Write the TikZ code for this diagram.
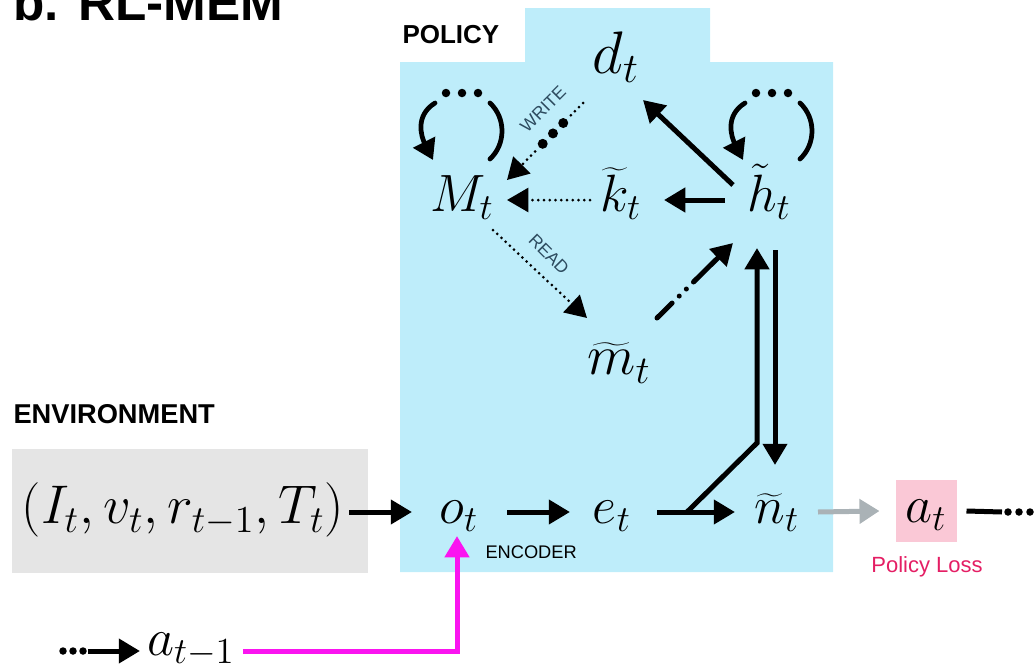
\RequirePackage{fix-cm}
\documentclass[tikz,border=0pt]{standalone}
\usepackage{fontspec}
\newfontfamily\hv{Liberation Sans}
\usetikzlibrary{arrows.meta,calc}
\definecolor{polblue}{RGB}{190,237,250}
\definecolor{envgrey}{RGB}{229,229,229}
\definecolor{actpink}{RGB}{250,200,214}
\definecolor{losscol}{RGB}{228,30,100}
\definecolor{mag}{RGB}{250,20,240}
\definecolor{lblcol}{RGB}{45,75,95}
\definecolor{garrow}{RGB}{170,178,182}
\tikzset{
  mn/.style={inner sep=0pt,outer sep=0pt,font=\fontsize{21}{25}\selectfont,text height=14.5pt,text depth=5pt},
  arr/.style={line width=2pt,-{Triangle[length=8.5pt,width=9.5pt]}},
  dotl/.style={line width=1.2pt,line cap=round,dash pattern=on 0pt off 2.3pt},
  dotarr/.style={dotl,-{Triangle[length=8.5pt,width=9.5pt]}},
  dasharr/.style={line width=2pt,line cap=round,dash pattern=on 8.5pt off 4pt on 0pt off 4pt on 0pt off 4pt on 40pt off 40pt,-{Triangle[length=8.5pt,width=9.5pt]}},
  biglbl/.style={font=\hv\bfseries\fontsize{10.4}{12}\selectfont,inner sep=0pt},
  smalllbl/.style={font=\hv\fontsize{7.3}{8}\selectfont,inner sep=0pt},
  rwlbl/.style={font=\hv\fontsize{7}{8}\selectfont,inner sep=0pt,text=lblcol},
  loopl/.style={line width=1.9pt,line cap=round},
  selfloop/.pic={
    \draw[loopl,-{Triangle[length=8pt,width=9.5pt]}] (-27,-97) .. controls (-48,-84) and (-40,-62) .. (-29,-40);
    \draw[loopl] (28,-97) .. controls (44,-82) and (44,-56) .. (28,-41);
    \fill (-16,-107) circle (1.7pt) (0,-107) circle (1.7pt) (16,-107) circle (1.7pt);
  }
}
\begin{document}
\begin{tikzpicture}[x=0.4pt,y=-0.4pt]
\useasboundingbox (0,0) rectangle (1035,667);
\clip (0,0) rectangle (1035,667);
% title
\node[anchor=base west,inner sep=0pt,font=\hv\bfseries\fontsize{20.5}{24}\selectfont] (title) at (13,20) {b. RL-MEM};
% policy region
\fill[polblue] (400,62) -- (525,62) -- (525,8) -- (710,8) -- (710,62) -- (833,62) -- (833,572) -- (400,572) -- cycle;
\node[biglbl,anchor=base west] (pol) at (402,43) {POLICY};
\node[biglbl,anchor=base west,font=\hv\bfseries\fontsize{10.9}{12}\selectfont] (envl) at (13,423) {ENVIRONMENT};
% environment box
\node[fill=envgrey,minimum width=142.4pt,minimum height=49.6pt,inner sep=0pt] (envbox) at (190,511) {};
\node[mn,font=\fontsize{21.8}{26}\selectfont] (env) at (183,512) {$(I_t, v_t, r_{t-1}, T_t)$};
% math nodes
\node[mn,font=\fontsize{24}{28}\selectfont,text height=16.5pt,text depth=6pt] (d) at (616,60) {$d_t$};
\node[mn] (M) at (462,200) {$M_t$};
\node[mn] (k) at (621,200) {$\widetilde{k}_t$};
\node[mn] (h) at (769,200) {$\tilde{h}_t$};
\node[mn,font=\fontsize{22.5}{26}\selectfont] (m) at (619,363) {$\widetilde{m}_t$};
\node[mn] (o) at (459,512) {$o_t$};
\node[mn] (e) at (612,512) {$e_t$};
\node[mn] (n) at (777,512) {$\widetilde{n}_t$};
\node[mn,fill=actpink,minimum width=24.4pt,minimum height=24.8pt] (a) at (926,511) {$a_t$};
\node[mn] (a1) at (191,644) {$a_{t-1}$};
% labels
\node[smalllbl,anchor=base west] (enc) at (485,558) {ENCODER};
\node[font=\hv\fontsize{8.8}{10}\selectfont,inner sep=0pt,anchor=base,text=losscol] (loss) at (927,572) {Policy Loss};
\node[rwlbl,rotate=45] (wlbl) at (543,109) {WRITE};
\node[rwlbl,rotate=-45] (rlbl) at (549,254) {READ};
% self loops
\pic at (M.center) {selfloop};
\pic at ([shift={(3,0)}]h.center) {selfloop};
% connectors
\draw[arr] ([xshift=2pt]env.east) -- ([shift={(-47,0)}]o.center);
\draw[arr] ([shift={(48,0)}]o.center) -- ([shift={(-42,0)}]e.center);
\draw[arr] ([shift={(45,0)}]e.center) -- ([shift={(-42,0)}]n.center);
\coordinate (br) at ([shift={(-90,0)}]n.center);
\coordinate (kink) at ([shift={(-20,-69)}]n.center);
\draw[arr] (br) -- (kink) -- ([shift={(-12,48)}]h.center);
\draw[arr] ([shift={(6,50)}]h.center) -- ([shift={(-2,-47)}]n.center);
\draw[arr] ([shift={(-44,0)}]h.center) -- ([shift={(43,0)}]k.center);
\draw[arr] ([shift={(-36,-15)}]h.center) -- ([shift={(27,40)}]d.center);
\draw[dotarr] ([shift={(-31,0)}]k.center) -- ([shift={(45,0)}]M.center);
\draw[dotarr] ([shift={(31,30)}]M.center) -- ([shift={(-32,-45)}]m.center);
\draw[dasharr] ([shift={(38,-45)}]m.center) -- ([shift={(-36,43)}]h.center);
% write connector with big dots
\coordinate (ws) at ([shift={(-33,43)}]d.center);
\coordinate (we) at ([shift={(45,-20)}]M.center);
\draw[dotl] (ws) -- ($(ws)!0.16!(we)$);
\fill ($(ws)!0.26!(we)$) circle (2pt) ($(ws)!0.395!(we)$) circle (2pt) ($(ws)!0.53!(we)$) circle (2pt);
\draw[dotarr] ($(ws)!0.63!(we)$) -- (we);
% output
\draw[line width=2pt,draw=garrow,-{Triangle[length=8pt,width=9.5pt]}] ([shift={(41,0)}]n.center) -- ([shift={(-16,0)}]a.west);
\coordinate (aout) at (1002,512);
\draw[line width=2pt] ([shift={(10,0)}]a.east) -- (aout);
\fill (1008,512) circle (1.5pt) (1019,512) circle (1.5pt) (1030,512) circle (1.5pt);
% previous action
\coordinate (dl) at (88,651);
\fill (63,651) circle (1.5pt) (73,651) circle (1.5pt) (83,651) circle (1.5pt);
\draw[arr] (dl) -- ([shift={(-51,7)}]a1.center);
\draw[line width=2pt,draw=mag,-{Triangle[length=8.5pt,width=9.5pt]}] ([shift={(52,7)}]a1.center) -| ([shift={(-2,24)}]o.center);
\end{tikzpicture}
\end{document}
